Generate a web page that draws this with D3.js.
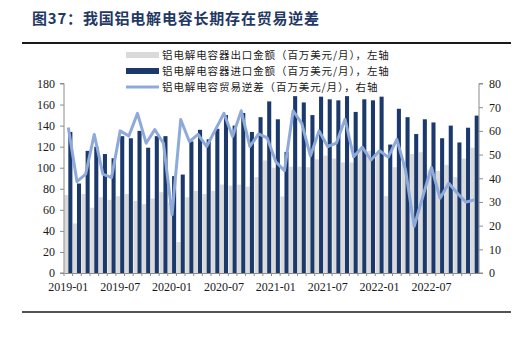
<!DOCTYPE html>
<html>
<head>
<meta charset="utf-8">
<script src="https://cdn.jsdelivr.net/npm/d3@7"></script>
<style>
  html, body { margin: 0; padding: 0; background: #fff; }
  svg { display: block; }
</style>
</head>
<body>
<svg id="chart" width="529" height="340"></svg>
<script>
// Monthly categories, 2019-01 .. 2022-12
const months = [];
for (let y = 2019; y <= 2022; y++) {
  for (let m = 1; m <= 12; m++) months.push(y + "-" + String(m).padStart(2, "0"));
}

// 铝电解电容器出口金额（百万美元/月）
const exportValues = [74, 47, 75, 62, 72, 69.5, 73, 75, 68.6, 65.4, 70.8, 76.8,
                      67, 29.4, 72, 78, 75, 78, 84, 83, 84, 82, 91, 107,
                      100, 72.7, 101, 101, 100.5, 108, 111.5, 108.7, 105, 105, 117, 116,
                      114, 73, 100.5, 104, 113, 114.7, 98, 97, 102.7, 91, 108.7, 119];

// 铝电解电容器进口金额（百万美元/月）
const importValues = [134, 85, 116, 120, 113, 109, 130, 128, 135, 119, 130, 130,
                      92, 93.5, 125, 136, 127, 137, 150, 140, 152, 134, 148, 163,
                      146, 115, 168, 162, 150, 167.5, 165, 164, 168, 153, 165, 164,
                      167.5, 122, 156, 148, 132, 146, 143, 128, 140, 124, 138, 149.5];

// 铝电解电容贸易逆差（百万美元/月），右轴
const deficitValues = [61.4, 38.6, 41.7, 58.5, 41.7, 40.3, 60, 57.8, 67.4, 54.8, 60.6, 54.8,
                       24.7, 64.8, 55.5, 58.5, 53.4, 60.4, 67.4, 57.6, 68.5, 53.4, 58.7, 57,
                       47, 43.2, 68.5, 63.2, 49.4, 60, 53.4, 54.8, 64.9, 49.1, 53.1, 47.7,
                       51.6, 48.9, 56.4, 43.5, 19.7, 32.3, 44.6, 31.6, 37.9, 33.7, 29.9, 30.9];

const xTickLabels = ["2019-01", "2019-07", "2020-01", "2020-07", "2021-01", "2021-07", "2022-01", "2022-07"];
const leftTicks = [0, 20, 40, 60, 80, 100, 120, 140, 160, 180];
const rightTicks = [0, 10, 20, 30, 40, 50, 60, 70, 80];

const legendLabels = [
  "铝电解电容器出口金额（百万美元/月），左轴",
  "铝电解电容器进口金额（百万美元/月），左轴",
  "铝电解电容贸易逆差（百万美元/月），右轴"
];

const COL_EXPORT = "#dadada";
const COL_IMPORT = "#1b3a6b";
const COL_LINE = "#8eaadb";
const COL_AXIS = "#8c8c8c";
const SERIF = "'Liberation Serif', 'Times New Roman', serif";
const CJK = "'Noto Sans CJK SC', 'Noto Sans', sans-serif";

const svg = d3.select("#chart");

const plot = { left: 64, right: 479, top: 83.5, bottom: 273 };

const x = d3.scaleBand().domain(months).range([plot.left, plot.right]).padding(0);
const yL = d3.scaleLinear().domain([0, 180]).range([plot.bottom, plot.top]);
const yR = d3.scaleLinear().domain([0, 80]).range([plot.bottom, plot.top]);
const bw = x.bandwidth();
const half = bw / 2;
const barW = bw * 0.47;

// Title and rules
svg.append("text")
  .attr("x", 32).attr("y", 24)
  .attr("font-family", CJK)
  .attr("font-weight", "bold")
  .attr("font-size", 15)
  .attr("letter-spacing", 0.8)
  .attr("fill", "#1f3864")
  .text("图37：我国铝电解电容长期存在贸易逆差");

svg.append("line")
  .attr("x1", 22).attr("x2", 511).attr("y1", 43).attr("y2", 43)
  .attr("stroke", "#1a1a1a").attr("stroke-width", 2);

svg.append("line")
  .attr("x1", 22).attr("x2", 511).attr("y1", 312).attr("y2", 312)
  .attr("stroke", "#1a1a1a").attr("stroke-width", 1.5);

// Export bars (left half of each month)
svg.append("g").selectAll("rect")
  .data(exportValues)
  .join("rect")
  .attr("x", (d, i) => x(months[i]) + half - barW)
  .attr("width", barW)
  .attr("y", d => yL(d))
  .attr("height", d => yL(0) - yL(d))
  .attr("fill", COL_EXPORT);

// Import bars (right half of each month)
svg.append("g").selectAll("rect")
  .data(importValues)
  .join("rect")
  .attr("x", (d, i) => x(months[i]) + half)
  .attr("width", barW)
  .attr("y", d => yL(d))
  .attr("height", d => yL(0) - yL(d))
  .attr("fill", COL_IMPORT);

// Trade deficit line on the right axis
const line = d3.line()
  .x((d, i) => x(months[i]) + half)
  .y(d => yR(d));

svg.append("path")
  .datum(deficitValues)
  .attr("d", line)
  .attr("fill", "none")
  .attr("stroke", COL_LINE)
  .attr("stroke-width", 3)
  .attr("stroke-linejoin", "round");

// Axes
const leftAxis = svg.append("g")
  .attr("transform", `translate(${plot.left},0)`)
  .call(d3.axisLeft(yL).tickValues(leftTicks).tickSize(4).tickPadding(5));

const rightAxis = svg.append("g")
  .attr("transform", `translate(${plot.right},0)`)
  .call(d3.axisRight(yR).tickValues(rightTicks).tickSize(4).tickPadding(6));

const bottomAxis = svg.append("g")
  .attr("transform", `translate(0,${plot.bottom})`)
  .call(d3.axisBottom(x)
    .tickValues(months)
    .tickSize(0)
    .tickPadding(9)
    .tickFormat(d => xTickLabels.includes(d) ? d : ""));

// Small ticks at each month boundary
svg.append("g").selectAll("line")
  .data(months)
  .join("line")
  .attr("x1", d => x(d)).attr("x2", d => x(d))
  .attr("y1", plot.bottom).attr("y2", plot.bottom + 3)
  .attr("stroke", COL_AXIS).attr("stroke-width", 1);

[leftAxis, rightAxis, bottomAxis].forEach(g => {
  g.selectAll(".domain").attr("stroke", COL_AXIS);
  g.selectAll(".tick line").attr("stroke", COL_AXIS);
  g.selectAll("text")
    .attr("font-family", SERIF)
    .attr("font-size", 12)
    .attr("fill", "#1a1a1a");
});
leftAxis.select(".domain").attr("d", `M-4,${plot.top}H0V${plot.bottom}H-4`);
rightAxis.select(".domain").attr("d", `M4,${plot.top}H0V${plot.bottom}H4`);

// Legend
const legend = svg.append("g").attr("transform", "translate(126,0)");
const rowY = [55, 71, 87];
legendLabels.forEach((label, i) => {
  const g = legend.append("g").attr("transform", `translate(0,${rowY[i]})`);
  if (i < 2) {
    g.append("rect")
      .attr("x", 0).attr("y", -3).attr("width", 33).attr("height", 6)
      .attr("fill", i === 0 ? COL_EXPORT : COL_IMPORT);
  } else {
    g.append("line")
      .attr("x1", 0).attr("x2", 33).attr("y1", 0).attr("y2", 0)
      .attr("stroke", COL_LINE).attr("stroke-width", 3);
  }
  g.append("text")
    .attr("x", 36).attr("y", 4)
    .attr("font-family", CJK)
    .attr("font-size", 10.5)
    .attr("letter-spacing", 0.9)
    .attr("fill", "#1a1a1a")
    .text(label);
});
</script>
</body>
</html>
